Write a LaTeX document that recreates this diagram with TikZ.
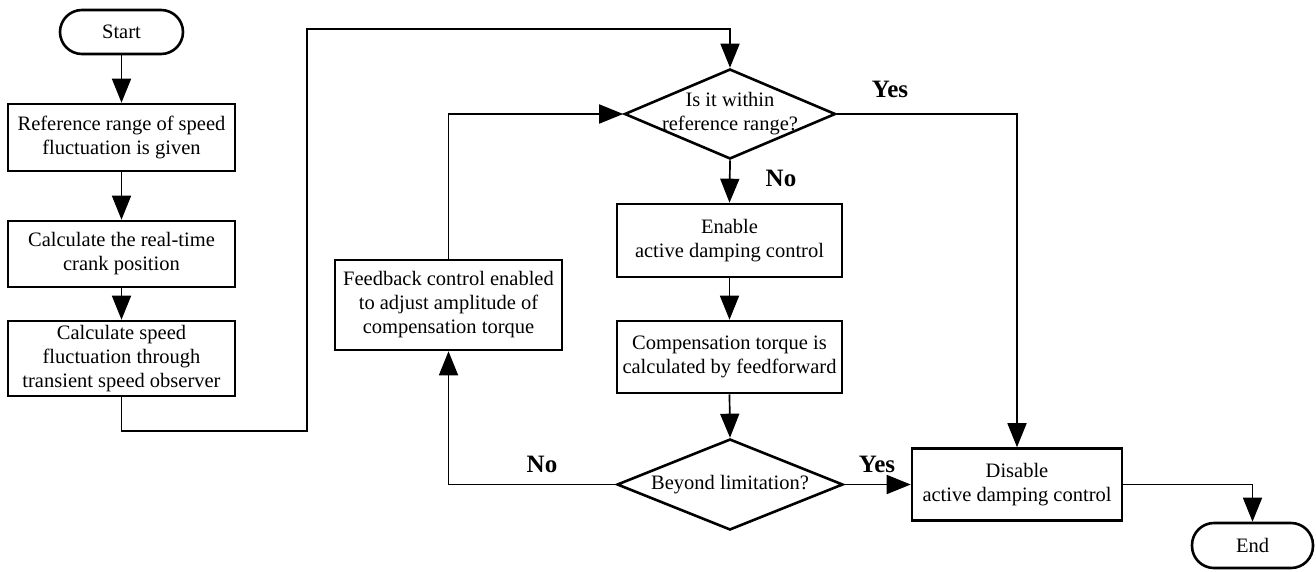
\documentclass[tikz,border=0pt]{standalone}
\usepackage{fontspec}
\setmainfont{Liberation Serif}
\newfontfamily\tnr{Liberation Serif}
\usetikzlibrary{arrows.meta,shapes.geometric}
\begin{document}
\begin{tikzpicture}[x=1pt,y=-1pt,
  box/.style={draw,line width=2.6pt,rectangle,inner sep=0pt,align=center,font=\tnr\fontsize{20.5}{24}\selectfont},
  term/.style={draw,line width=2.6pt,rectangle,rounded corners=22pt,inner sep=0pt,font=\tnr\fontsize{20.5}{24}\selectfont},
  dec/.style={draw,line width=2.6pt,diamond,inner sep=0pt},
  txt/.style={align=center,font=\tnr\fontsize{20.5}{24}\selectfont},
  lbl/.style={font=\tnr\bfseries\fontsize{25}{28}\selectfont},
  conn/.style={line width=1.7pt,-{Triangle[length=24pt,width=19pt]}},
  wire/.style={line width=1.7pt}]
\useasboundingbox (0,0) rectangle (1316,571);

% left column
\node[term,minimum width=123pt,minimum height=44pt] (start) at (121.5,32) {Start};
\node[box,minimum width=227pt,minimum height=67pt] (b1) at (121.5,137.5) {Reference range of speed\\fluctuation is given};
\node[box,minimum width=227pt,minimum height=66pt] (b2) at (121.5,254) {Calculate the real-time\\crank position};
\node[box,minimum width=227pt,minimum height=75pt] (b3) at (121.5,358.5) {Calculate speed\\fluctuation through\\transient speed observer};

% middle
\node[dec,minimum width=211pt,minimum height=90pt] (d1) at (730,114) {};
\node[txt] (d1t) at (730,114) {Is it within\\reference range?};
\node[box,minimum width=225pt,minimum height=73pt] (en) at (729.5,240.5) {Enable\\active damping control};
\node[box,minimum width=225pt,minimum height=72pt] (comp) at (729.5,357) {Compensation torque is\\calculated by feedforward};
\node[dec,minimum width=226pt,minimum height=91pt] (d2) at (730,484.5) {};
\node[txt] (d2t) at (730,484.5) {Beyond limitation?};
\node[box,minimum width=227pt,minimum height=90pt] (fb) at (448.5,305) {Feedback control enabled\\to adjust amplitude of\\compensation torque};

% right
\node[box,minimum width=210pt,minimum height=72pt] (dis) at (1017,484.5) {Disable\\active damping control};
\node[term,minimum width=121pt,minimum height=45pt] (end) at (1252.5,545.5) {End};

% labels
\node[lbl] (yes1) at (890,89) {Yes};
\node[lbl] (no1) at (781,178) {No};
\node[lbl] (no2) at (542,464) {No};
\node[lbl] (yes2) at (877,464) {Yes};

% connectors
\coordinate (c1) at (121.5,431);
\coordinate (c2) at (307,431);
\coordinate (c3) at (307,29);
\coordinate (c4) at (730,29);
\draw[conn] (start) -- (b1);
\draw[conn] (b1) -- (b2);
\draw[conn] (b2) -- (b3);
\draw[conn] (b3.south) -- (c1) -- (c2) -- (c3) -- (c4) -- (d1.north);
\draw[conn] (d1.south) -- (en.north);
\draw[conn] (en) -- (comp);
\draw[conn] (comp.south) -- (d2.north);
\draw[conn] (d2.west) -| (fb.south);
\draw[conn] (fb.north) |- (d1.west);
\draw[conn] (d1.east) -| (dis.north);
\draw[conn] (d2.east) -- (dis.west);
\draw[conn] (dis.east) -| (end.north);
\end{tikzpicture}
\end{document}
